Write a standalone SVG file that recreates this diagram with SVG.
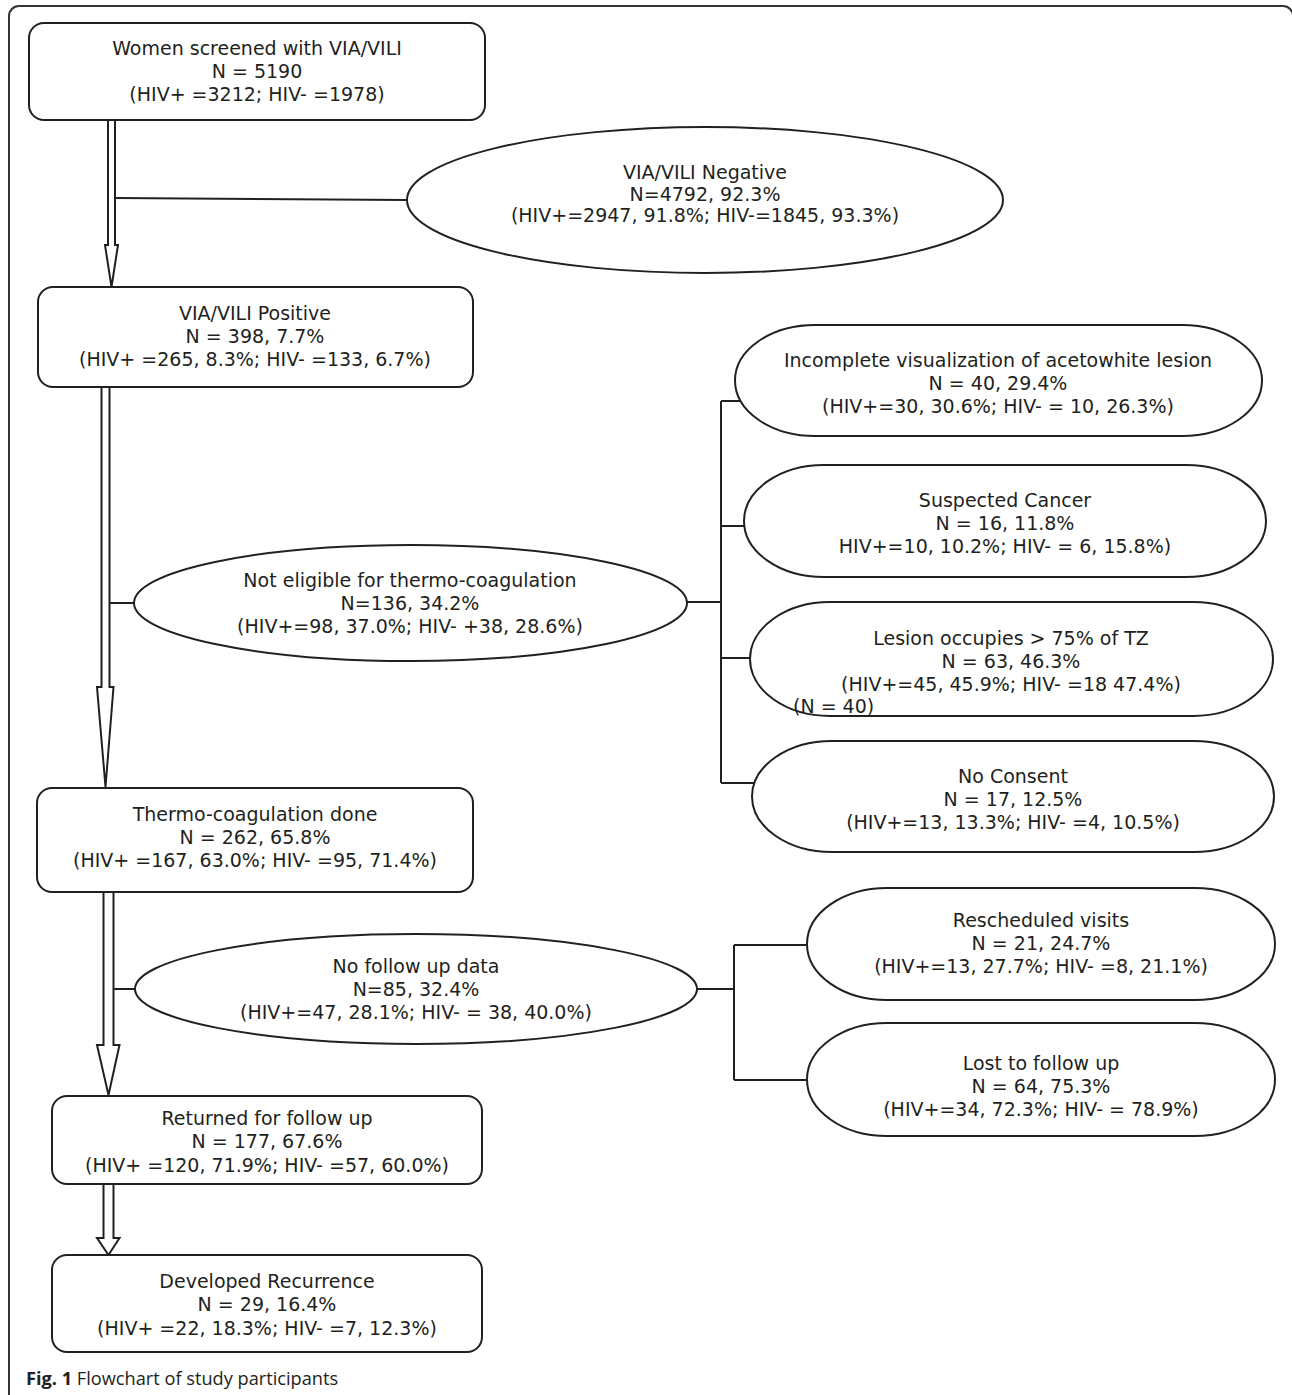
<svg xmlns="http://www.w3.org/2000/svg" width="1292" height="1395" viewBox="0 0 1292 1395">
<style>
.bg{fill:#fff}
.frame{fill:none;stroke:#333;stroke-width:2}
.box{fill:#fff;stroke:#231f20;stroke-width:2}
.ln{fill:none;stroke:#231f20;stroke-width:2}
.arr{fill:#fff;stroke:#231f20;stroke-width:2;stroke-linejoin:miter}
text{font-family:"DejaVu Sans",Verdana,sans-serif;font-size:19px;fill:#231f20;text-anchor:middle}
.cap{font-family:"Open Sans","Liberation Sans",sans-serif;font-size:18.2px;text-anchor:start}
</style>
<rect class="bg" x="0" y="0" width="1292" height="1395"/>
<rect class="frame" x="9" y="6" width="1284" height="1420" rx="10"/>

<g id="connectors">
<path class="arr" d="M108,121 L108,245 L105,245 L111.5,287 L118,245 L115,245 L115,121"/>
<path class="arr" d="M101.5,388 L101.5,687 L97,687 L105.5,787 L113.5,687 L109.5,687 L109.5,388"/>
<path class="arr" d="M103.5,893 L103.5,1045 L97,1045 L108.5,1095 L119.5,1045 L113.5,1045 L113.5,893"/>
<path class="arr" d="M103.5,1185 L103.5,1238 L97,1238 L108.5,1255 L119.5,1238 L113.5,1238 L113.5,1185"/>
<path class="ln" d="M116,198 L407,200"/>
<path class="ln" d="M110,603 L134,603"/>
<path class="ln" d="M687,602 L721,602 M721,401 L721,783 M721,401 L740,401 M721,526 L744,526 M721,658 L752,658 M721,783 L754,783"/>
<path class="ln" d="M113,989 L135,989"/>
<path class="ln" d="M697,989 L734,989 M734,945 L734,1080 M734,945 L807,945 M734,1080 L807,1080"/>
</g>

<g id="n_screened">
<rect class="box" x="29" y="23" width="456" height="97" rx="15"/>
<text x="257" y="55">Women screened with VIA/VILI</text>
<text x="257" y="78">N = 5190</text>
<text x="257" y="101">(HIV+ =3212; HIV- =1978)</text>
</g>

<g id="n_negative">
<ellipse class="box" cx="705" cy="200" rx="298" ry="73"/>
<text x="705" y="179">VIA/VILI Negative</text>
<text x="705" y="201">N=4792, 92.3%</text>
<text x="705" y="222">(HIV+=2947, 91.8%; HIV-=1845, 93.3%)</text>
</g>

<g id="n_positive">
<rect class="box" x="38" y="287" width="435" height="100" rx="15"/>
<text x="255" y="320">VIA/VILI Positive</text>
<text x="255" y="343">N = 398, 7.7%</text>
<text x="255" y="366">(HIV+ =265, 8.3%; HIV- =133, 6.7%)</text>
</g>

<g id="n_noteligible">
<ellipse class="box" cx="410.5" cy="603" rx="276.5" ry="58"/>
<text x="410" y="587">Not eligible for thermo-coagulation</text>
<text x="410" y="610">N=136, 34.2%</text>
<text x="410" y="633">(HIV+=98, 37.0%; HIV- +38, 28.6%)</text>
</g>

<g id="n_incomplete">
<rect class="box" x="735" y="325" width="527" height="111" rx="80" ry="55.5"/>
<text x="998" y="367">Incomplete visualization of acetowhite lesion</text>
<text x="998" y="390">N = 40, 29.4%</text>
<text x="998" y="413">(HIV+=30, 30.6%; HIV- = 10, 26.3%)</text>
</g>

<g id="n_cancer">
<rect class="box" x="744" y="465" width="522" height="112" rx="80" ry="56"/>
<text x="1005" y="507">Suspected Cancer</text>
<text x="1005" y="530">N = 16, 11.8%</text>
<text x="1005" y="553">HIV+=10, 10.2%; HIV- = 6, 15.8%)</text>
</g>

<g id="n_lesion">
<rect class="box" x="750" y="602" width="523" height="114" rx="80" ry="57"/>
<text x="1011" y="645">Lesion occupies &gt; 75% of TZ</text>
<text x="1011" y="668">N = 63, 46.3%</text>
<text x="1011" y="691">(HIV+=45, 45.9%; HIV- =18 47.4%)</text>
<text x="793" y="713" style="text-anchor:start">(N = 40)</text>
</g>

<g id="n_noconsent">
<rect class="box" x="752" y="741" width="522" height="111" rx="80" ry="55.5"/>
<text x="1013" y="783">No Consent</text>
<text x="1013" y="806">N = 17, 12.5%</text>
<text x="1013" y="829">(HIV+=13, 13.3%; HIV- =4, 10.5%)</text>
</g>

<g id="n_thermo">
<rect class="box" x="37" y="788" width="436" height="104" rx="15"/>
<text x="255" y="821">Thermo-coagulation done</text>
<text x="255" y="844">N = 262, 65.8%</text>
<text x="255" y="867">(HIV+ =167, 63.0%; HIV- =95, 71.4%)</text>
</g>

<g id="n_nofollow">
<ellipse class="box" cx="416" cy="989" rx="281" ry="55"/>
<text x="416" y="973">No follow up data</text>
<text x="416" y="996">N=85, 32.4%</text>
<text x="416" y="1019">(HIV+=47, 28.1%; HIV- = 38, 40.0%)</text>
</g>

<g id="n_rescheduled">
<rect class="box" x="807" y="888" width="468" height="112" rx="80" ry="56"/>
<text x="1041" y="927">Rescheduled visits</text>
<text x="1041" y="950">N = 21, 24.7%</text>
<text x="1041" y="973">(HIV+=13, 27.7%; HIV- =8, 21.1%)</text>
</g>

<g id="n_lost">
<rect class="box" x="807" y="1023" width="468" height="113" rx="80" ry="56.5"/>
<text x="1041" y="1070">Lost to follow up</text>
<text x="1041" y="1093">N = 64, 75.3%</text>
<text x="1041" y="1116">(HIV+=34, 72.3%; HIV- = 78.9%)</text>
</g>

<g id="n_returned">
<rect class="box" x="52" y="1096" width="430" height="88" rx="15"/>
<text x="267" y="1125">Returned for follow up</text>
<text x="267" y="1148">N = 177, 67.6%</text>
<text x="267" y="1172">(HIV+ =120, 71.9%; HIV- =57, 60.0%)</text>
</g>

<g id="n_recurrence">
<rect class="box" x="52" y="1255" width="430" height="97" rx="15"/>
<text x="267" y="1288">Developed Recurrence</text>
<text x="267" y="1311">N = 29, 16.4%</text>
<text x="267" y="1335">(HIV+ =22, 18.3%; HIV- =7, 12.3%)</text>
</g>

<text class="cap" x="26" y="1385"><tspan font-weight="bold">Fig. 1</tspan> Flowchart of study participants</text>
</svg>
